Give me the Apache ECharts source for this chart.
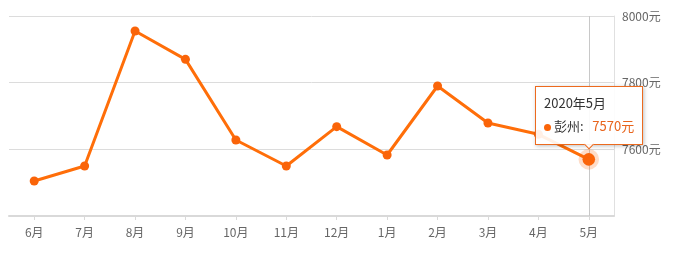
<!DOCTYPE html>
<html><head><meta charset="utf-8">
<script src="https://cdn.jsdelivr.net/npm/echarts@6/dist/echarts.min.js"></script>
<style>html,body{margin:0;padding:0;background:#fff}#c{width:674px;height:253px}</style>
</head><body><div id="c"></div>
<script>
const categories = ['6月','7月','8月','9月','10月','11月','12月','1月','2月','3月','4月','5月'];
const fullLabels = ['2019年6月','2019年7月','2019年8月','2019年9月','2019年10月','2019年11月','2019年12月','2020年1月','2020年2月','2020年3月','2020年4月','2020年5月'];
const prices = [7505, 7550, 7955, 7870, 7628, 7550, 7668, 7583, 7790, 7679, 7645, 7570];
const seriesName = '彭州';
const yTicks = [7400, 8000, 200];

const chart = echarts.init(document.getElementById('c'));
const font = '"Microsoft YaHei","Noto Sans CJK SC",sans-serif';
const cssFont = font.replace(/"/g, "'");
chart.setOption({
  animation: false,
  axisPointer: {z: 1},
  grid: {left: 9, right: 60, top: 16, bottom: 37},
  tooltip: {
    trigger: 'item',
    position: 'top',
    alwaysShowContent: true,
    backgroundColor: 'rgba(255,255,255,0.9)',
    borderColor: '#ec6a1e',
    borderWidth: 1,
    padding: [5, 8, 6, 8],
    extraCssText: 'box-shadow:1px 1px 4px rgba(0,0,0,0.25);border-radius:0;',
    formatter: function (p) {
      return '<div style="font-family:' + cssFont + ';font-size:13px;color:#333;line-height:22px">' +
        fullLabels[p.dataIndex] + '</div>' +
        '<div style="font-family:' + cssFont + ';font-size:13px;line-height:24px;color:#333">' +
        '<span style="display:inline-block;width:7px;height:7px;border-radius:50%;background:#fa6409;margin-right:3px;vertical-align:middle"></span>' +
        p.seriesName + ':&nbsp;&nbsp;&nbsp;<span style="color:#e8641c">' + p.value + '元</span></div>';
    }
  },
  xAxis: {
    type: 'category',
    data: categories,
    boundaryGap: true,
    axisLine: {lineStyle: {color: '#d9d9d9', width: 2}},
    axisTick: {show: true, alignWithLabel: true, length: 4, lineStyle: {color: '#d9d9d9'}},
    axisLabel: {color: '#666', fontSize: 12, fontFamily: font, margin: 10},
    axisPointer: {
      show: true, type: 'line', value: categories.length - 1, status: 'show', triggerTooltip: false, z: 1,
      label: {show: false}, lineStyle: {color: '#c8c8c8', width: 1, type: 'solid'}
    }
  },
  yAxis: {
    type: 'value',
    position: 'right',
    min: yTicks[0], max: yTicks[1], interval: yTicks[2],
    axisLine: {show: true, lineStyle: {color: '#e0e0e0'}},
    axisTick: {show: false},
    axisLabel: {
      color: '#666', fontSize: 12, fontFamily: font, margin: 8,
      formatter: function (v) { return v === yTicks[0] ? '' : v + '元'; }
    },
    splitLine: {lineStyle: {color: '#dcdcdc'}}
  },
  series: [{
    name: seriesName,
    type: 'line',
    z: 5,
    data: prices,
    symbol: 'circle',
    symbolSize: 9,
    lineStyle: {color: '#fa6409', width: 3},
    itemStyle: {color: '#fa6409'},
    emphasis: {
      scale: 1.4,
      itemStyle: {color: '#fa6409', borderColor: 'rgba(250,100,9,0.22)', borderWidth: 8}
    }
  }]
});
chart.dispatchAction({type: 'highlight', seriesIndex: 0, dataIndex: prices.length - 1});
chart.dispatchAction({type: 'showTip', seriesIndex: 0, dataIndex: prices.length - 1});
</script></body></html>
